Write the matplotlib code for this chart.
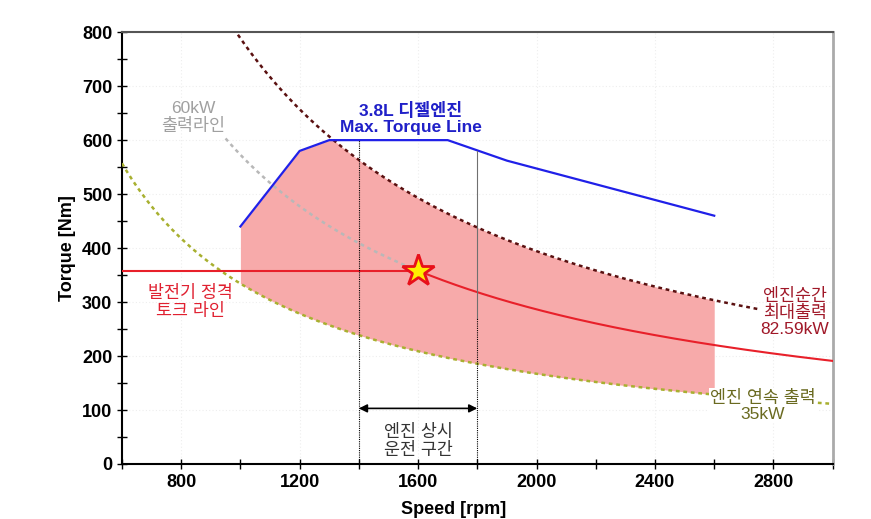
import numpy as np
import matplotlib.pyplot as plt

plt.rcParams['font.family'] = ['Liberation Sans', 'Noto Sans CJK KR', 'DejaVu Sans']

# 출력 곡선 (kW) : T = P * 9549 / n
p_max = 82.59      # 엔진순간 최대출력
p_gen = 60.0       # 60kW 출력라인
p_cont = 35.0      # 엔진 연속 출력
k = 9549.0

# 3.8L 디젤엔진 최대 토크 라인
blue_rpm = [1000, 1200, 1300, 1700, 1900, 2600]
blue_tq = [440, 580, 600, 600, 562, 460]

# 발전기 정격 토크 및 운전점
gen_tq = 358
op_rpm = 1600
range_lo, range_hi = 1400, 1800

fig = plt.figure(figsize=(8.71, 5.19), dpi=100)
ax = fig.add_axes([0.140, 0.106, 0.816, 0.832])

# 음영 영역 (1000 ~ 2600 rpm)
n = np.linspace(1000, 2600, 400)
upper = np.minimum(np.interp(n, blue_rpm, blue_tq), p_max * k / n)
lower = p_cont * k / n
ax.fill_between(n, lower, upper, color='#f7aaaa', lw=0, zorder=1)

# 82.59kW 곡선
n1 = np.linspace(950, 2750, 300)
ax.plot(n1, p_max * k / n1, color='#5a1010', ls=(0, (1.5, 1.5)), lw=1.8, zorder=3)

# 35kW 곡선
n2 = np.linspace(600, 3000, 300)
ax.plot(n2, p_cont * k / n2, color='#a8b030', ls=(0, (1.5, 1.5)), lw=1.8, zorder=3)

# 60kW 출력라인 (점선 부분)
n3 = np.linspace(950, op_rpm, 100)
ax.plot(n3, p_gen * k / n3, color='#b8b8b8', ls=(0, (1.5, 1.5)), lw=1.8, zorder=3)

# 발전기 정격 토크 라인
n4 = np.linspace(op_rpm, 3000, 200)
ax.plot([600, op_rpm], [gen_tq, gen_tq], color='#e8202a', lw=1.5, zorder=4)
ax.plot(n4, p_gen * k / n4, color='#e8202a', lw=1.5, zorder=4)

# 최대 토크 라인
ax.plot(blue_rpm, blue_tq, color='#2020e8', lw=1.6, zorder=4)

# 상시 운전 구간
ax.plot([range_lo, range_lo], [0, 600], color='black', ls=(0, (1, 1)), lw=0.8, zorder=5)
ax.plot([range_hi, range_hi], [0, 270], color='black', ls=(0, (1, 1)), lw=0.8, zorder=5)
ax.plot([range_hi, range_hi], [270, 580], color='#707070', lw=0.8, zorder=5)
ax.annotate('', xy=(range_lo, 103), xytext=(range_hi, 103),
            arrowprops=dict(arrowstyle='<|-|>', color='black', lw=1.2,
                            mutation_scale=12, shrinkA=0, shrinkB=0), zorder=6)

ax.plot(op_rpm, gen_tq, marker='*', ms=24, mfc='#ffee00', mec='#e8101a', mew=2, zorder=7)

# 텍스트
fs = 12.5
box = dict(facecolor='white', edgecolor='none', pad=1)
ax.text(840, 642, '60kW\n출력라인', color='#a0a0a0', ha='center', va='center', fontsize=fs, linespacing=1.15)
ax.text(1576, 640, '3.8L 디젤엔진\nMax. Torque Line', color='#2020c8', ha='center', va='center',
        fontsize=fs, fontweight='bold', linespacing=1.15)
ax.text(830, 300, '발전기 정격\n토크 라인', color='#e02030', ha='center', va='center', fontsize=fs,
        linespacing=1.2)
ax.text(2873, 281, '엔진순간\n최대출력\n82.59kW', color='#a01828', ha='center', va='center', fontsize=fs,
        linespacing=1.1, zorder=8)
ax.text(2765, 108, '엔진 연속 출력\n35kW', color='#6a6a20', ha='center', va='center', fontsize=fs,
        linespacing=1.1, bbox=box, zorder=8)
ax.text(1600, 42, '엔진 상시\n운전 구간', color='#333333', ha='center', va='center', fontsize=fs,
        linespacing=1.15)

ax.set_xlim(600, 3000)
ax.set_ylim(0, 800)
ax.set_xticks(range(800, 3000, 400))
ax.set_xticks(range(600, 3001, 200), minor=True)
ax.set_yticks(range(0, 801, 100))
ax.set_yticks(range(0, 801, 50), minor=True)
ax.tick_params(which='both', direction='inout', length=7, width=1, labelsize=13)
for lab in ax.get_xticklabels() + ax.get_yticklabels():
    lab.set_fontweight('bold')

ax.grid(which='major', color='#eeeeee', ls=(0, (1, 2)), lw=0.8)
ax.set_axisbelow(True)

ax.spines['left'].set_linewidth(1.5)
ax.spines['bottom'].set_linewidth(1.5)
ax.spines['top'].set_color('#555555')
ax.spines['top'].set_linewidth(1.5)
ax.spines['right'].set_color('#aaaaaa')
ax.spines['right'].set_linewidth(2)

ax.set_xlabel('Speed [rpm]', fontsize=13, fontweight='bold')
ax.set_ylabel('Torque [Nm]', fontsize=13, fontweight='bold')
ax.xaxis.set_label_coords(0.467, -0.085)

fig.savefig('out.png', dpi=100)
